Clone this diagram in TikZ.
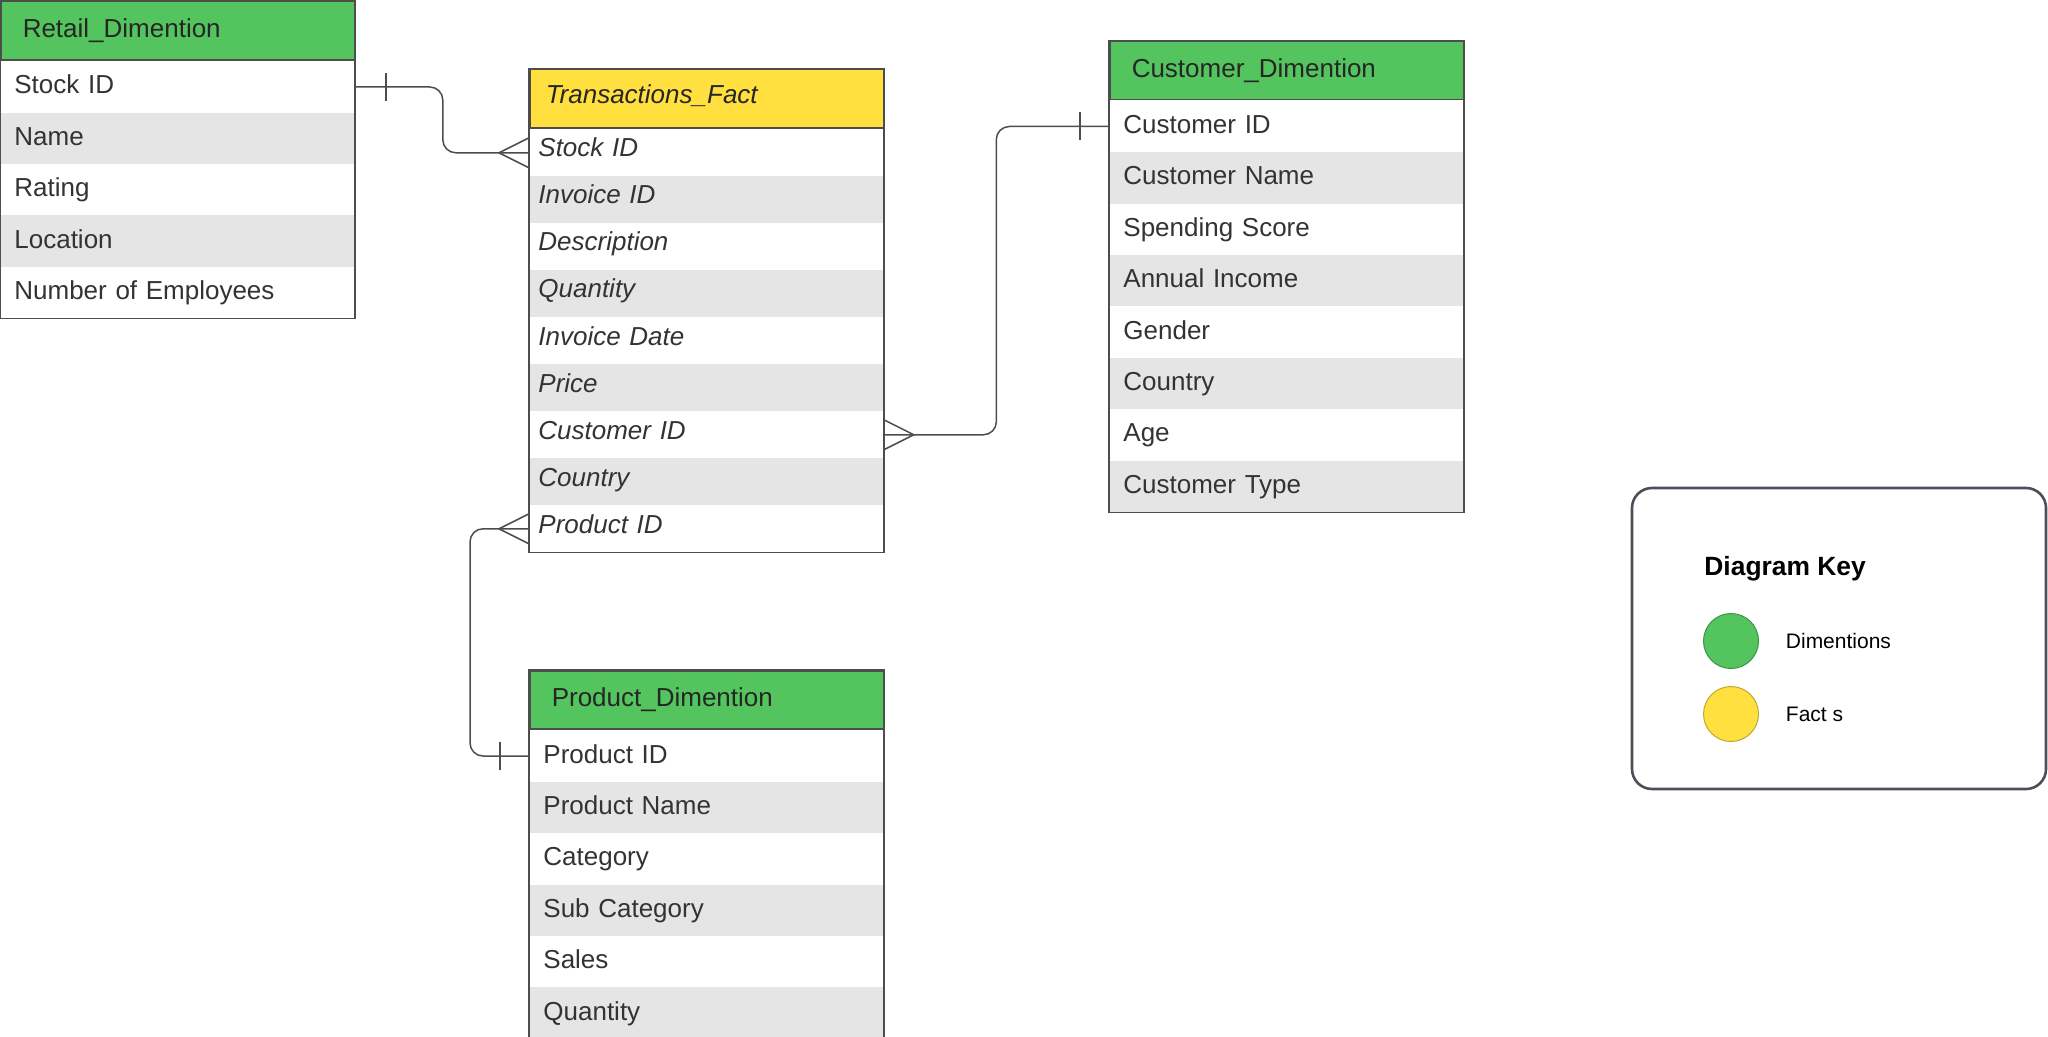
\documentclass[tikz,border=0pt]{standalone}
\usepackage{fontspec}
\setmainfont{Liberation Sans}
\usetikzlibrary{calc,positioning}
\definecolor{dimgreen}{HTML}{54C45E}
\definecolor{factyellow}{HTML}{FFE03F}
\definecolor{rowgray}{HTML}{E5E5E5}
\definecolor{linegray}{HTML}{4D4D4D}
\definecolor{textgray}{HTML}{333333}
\definecolor{keyframe}{HTML}{4A5058}

\begin{document}
\begin{tikzpicture}[
    x=0.5pt, y=-0.5pt,
    font=\fontsize{13}{15}\selectfont,
    cell/.style={rectangle, anchor=north west, inner ysep=0pt, text height=9.6pt, text depth=2.6pt,
      align=left, text=textgray},
    dimhead/.style={cell, fill=dimgreen, draw=linegray, line width=0.75pt, minimum height=29.2pt,
      inner xsep=11pt, text width=155pt, text=black!85},
    facthead/.style={cell, fill=factyellow, draw=linegray, line width=0.75pt, minimum height=29.2pt,
      inner xsep=8pt, text width=161pt, font=\fontsize{13}{15}\selectfont\itshape, text=black!85,
      text depth=4.6pt},
    dimrow/.style={cell, minimum height=25.7pt, inner xsep=7pt, text width=163pt},
    factrow/.style={cell, minimum height=23.5pt, inner xsep=4.5pt, text width=168pt,
      font=\fontsize{13}{15}\selectfont\itshape, text depth=5.4pt},
    row1/.style={fill=white},
    row0/.style={fill=rowgray},
    frame/.style={draw=linegray, line width=0.75pt},
    conn/.style={draw=linegray, line width=0.75pt, rounded corners=6.5pt},
    foot/.style={draw=linegray, line width=0.75pt},
    keybox/.style={rectangle, rounded corners=10pt, draw=keyframe, line width=1.3pt,
      minimum width=207pt, minimum height=150.5pt},
    dot/.style={circle, minimum size=27.5pt, inner sep=0pt, line width=0.5pt},
    keytext/.style={inner sep=0pt, anchor=west, font=\fontsize{10.5}{12}\selectfont, text=black}
  ]
    \useasboundingbox (0,0) rectangle (2048,1037);

    % Retail table
    \node[dimhead] (rt) at (0,1) {Retail\_Dimention};
    \foreach \f [count=\i, evaluate={\i as \c using int(mod(\i,2))}] in
      {Stock ID, Name, Rating, Location, Number of Employees}
      \node[dimrow, row\c] (rt-\i) at ($(rt.south west)+(0,{(\i-1)*51.4})$) {\f};
    \draw[frame] (rt.north west) rectangle (rt-5.south east);

    % Transactions table
    \node[facthead] (tf) at (529,69) {Transactions\_Fact};
    \foreach \f [count=\i, evaluate={\i as \c using int(mod(\i,2))}] in
      {Stock ID, Invoice ID, Description, Quantity, Invoice Date, Price, Customer ID, Country, Product ID}
      \node[factrow, row\c] (tf-\i) at ($(tf.south west)+(0,{(\i-1)*47})$) {\f};
    \draw[frame] (tf.north west) rectangle (tf-9.south east);

    % Customer table
    \node[dimhead] (cd) at (1109,40.5) {Customer\_Dimention};
    \foreach \f [count=\i, evaluate={\i as \c using int(mod(\i,2))}] in
      {Customer ID, Customer Name, Spending Score, Annual Income, Gender, Country, Age, Customer Type}
      \node[dimrow, row\c] (cd-\i) at ($(cd.south west)+(0,{(\i-1)*51.4})$) {\f};
    \draw[frame] (cd.north west) rectangle (cd-8.south east);

    % Product table
    \node[dimhead] (pd) at (529,670) {Product\_Dimention};
    \foreach \f [count=\i, evaluate={\i as \c using int(mod(\i,2))}] in
      {Product ID, Product Name, Category, Sub Category, Sales, Quantity}
      \node[dimrow, row\c] (pd-\i) at ($(pd.south west)+(0,{(\i-1)*51.4})$) {\f};
    \draw[frame] (pd.north west) rectangle (pd-6.south east);

    % relations
    \draw[conn] (rt-1.east) -- ++(88,0) |- (tf-1.west);
    \draw[foot] ([xshift=15.5pt,yshift=7pt]rt-1.east) -- ([xshift=15.5pt,yshift=-7pt]rt-1.east);
    \draw[foot] ([yshift=7.5pt]tf-1.west) -- ([xshift=-15pt]tf-1.west) -- ([yshift=-7.5pt]tf-1.west);

    \draw[conn] (tf-7.east) -- ++(112.5,0) |- (cd-1.west);
    \draw[foot] ([yshift=7.5pt]tf-7.east) -- ([xshift=15pt]tf-7.east) -- ([yshift=-7.5pt]tf-7.east);
    \draw[foot] ([xshift=-14.5pt,yshift=7pt]cd-1.west) -- ([xshift=-14.5pt,yshift=-7pt]cd-1.west);

    \draw[conn] (tf-9.west) -- ++(-59,0) |- (pd-1.west);
    \draw[foot] ([yshift=7.5pt]tf-9.west) -- ([xshift=-15pt]tf-9.west) -- ([yshift=-7.5pt]tf-9.west);
    \draw[foot] ([xshift=-14.5pt,yshift=7pt]pd-1.west) -- ([xshift=-14.5pt,yshift=-7pt]pd-1.west);

    % legend
    \node[keybox] (key) at (1839,638.5) {};
    \node[keytext, font=\fontsize{13.2}{15}\selectfont\bfseries] (keytitle) at (1704,569) {Diagram Key};
    \node[dot, fill=dimgreen, draw=dimgreen!75!black] (kdim) at (1731,641) {};
    \node[dot, fill=factyellow, draw=factyellow!75!black] (kfact) at (1731,714) {};
    \node[keytext, right=13.25pt of kdim] (kdimtext) {Dimentions};
    \node[keytext, right=13.25pt of kfact] (kfacttext) {Fact s};
  \end{tikzpicture}
\end{document}
